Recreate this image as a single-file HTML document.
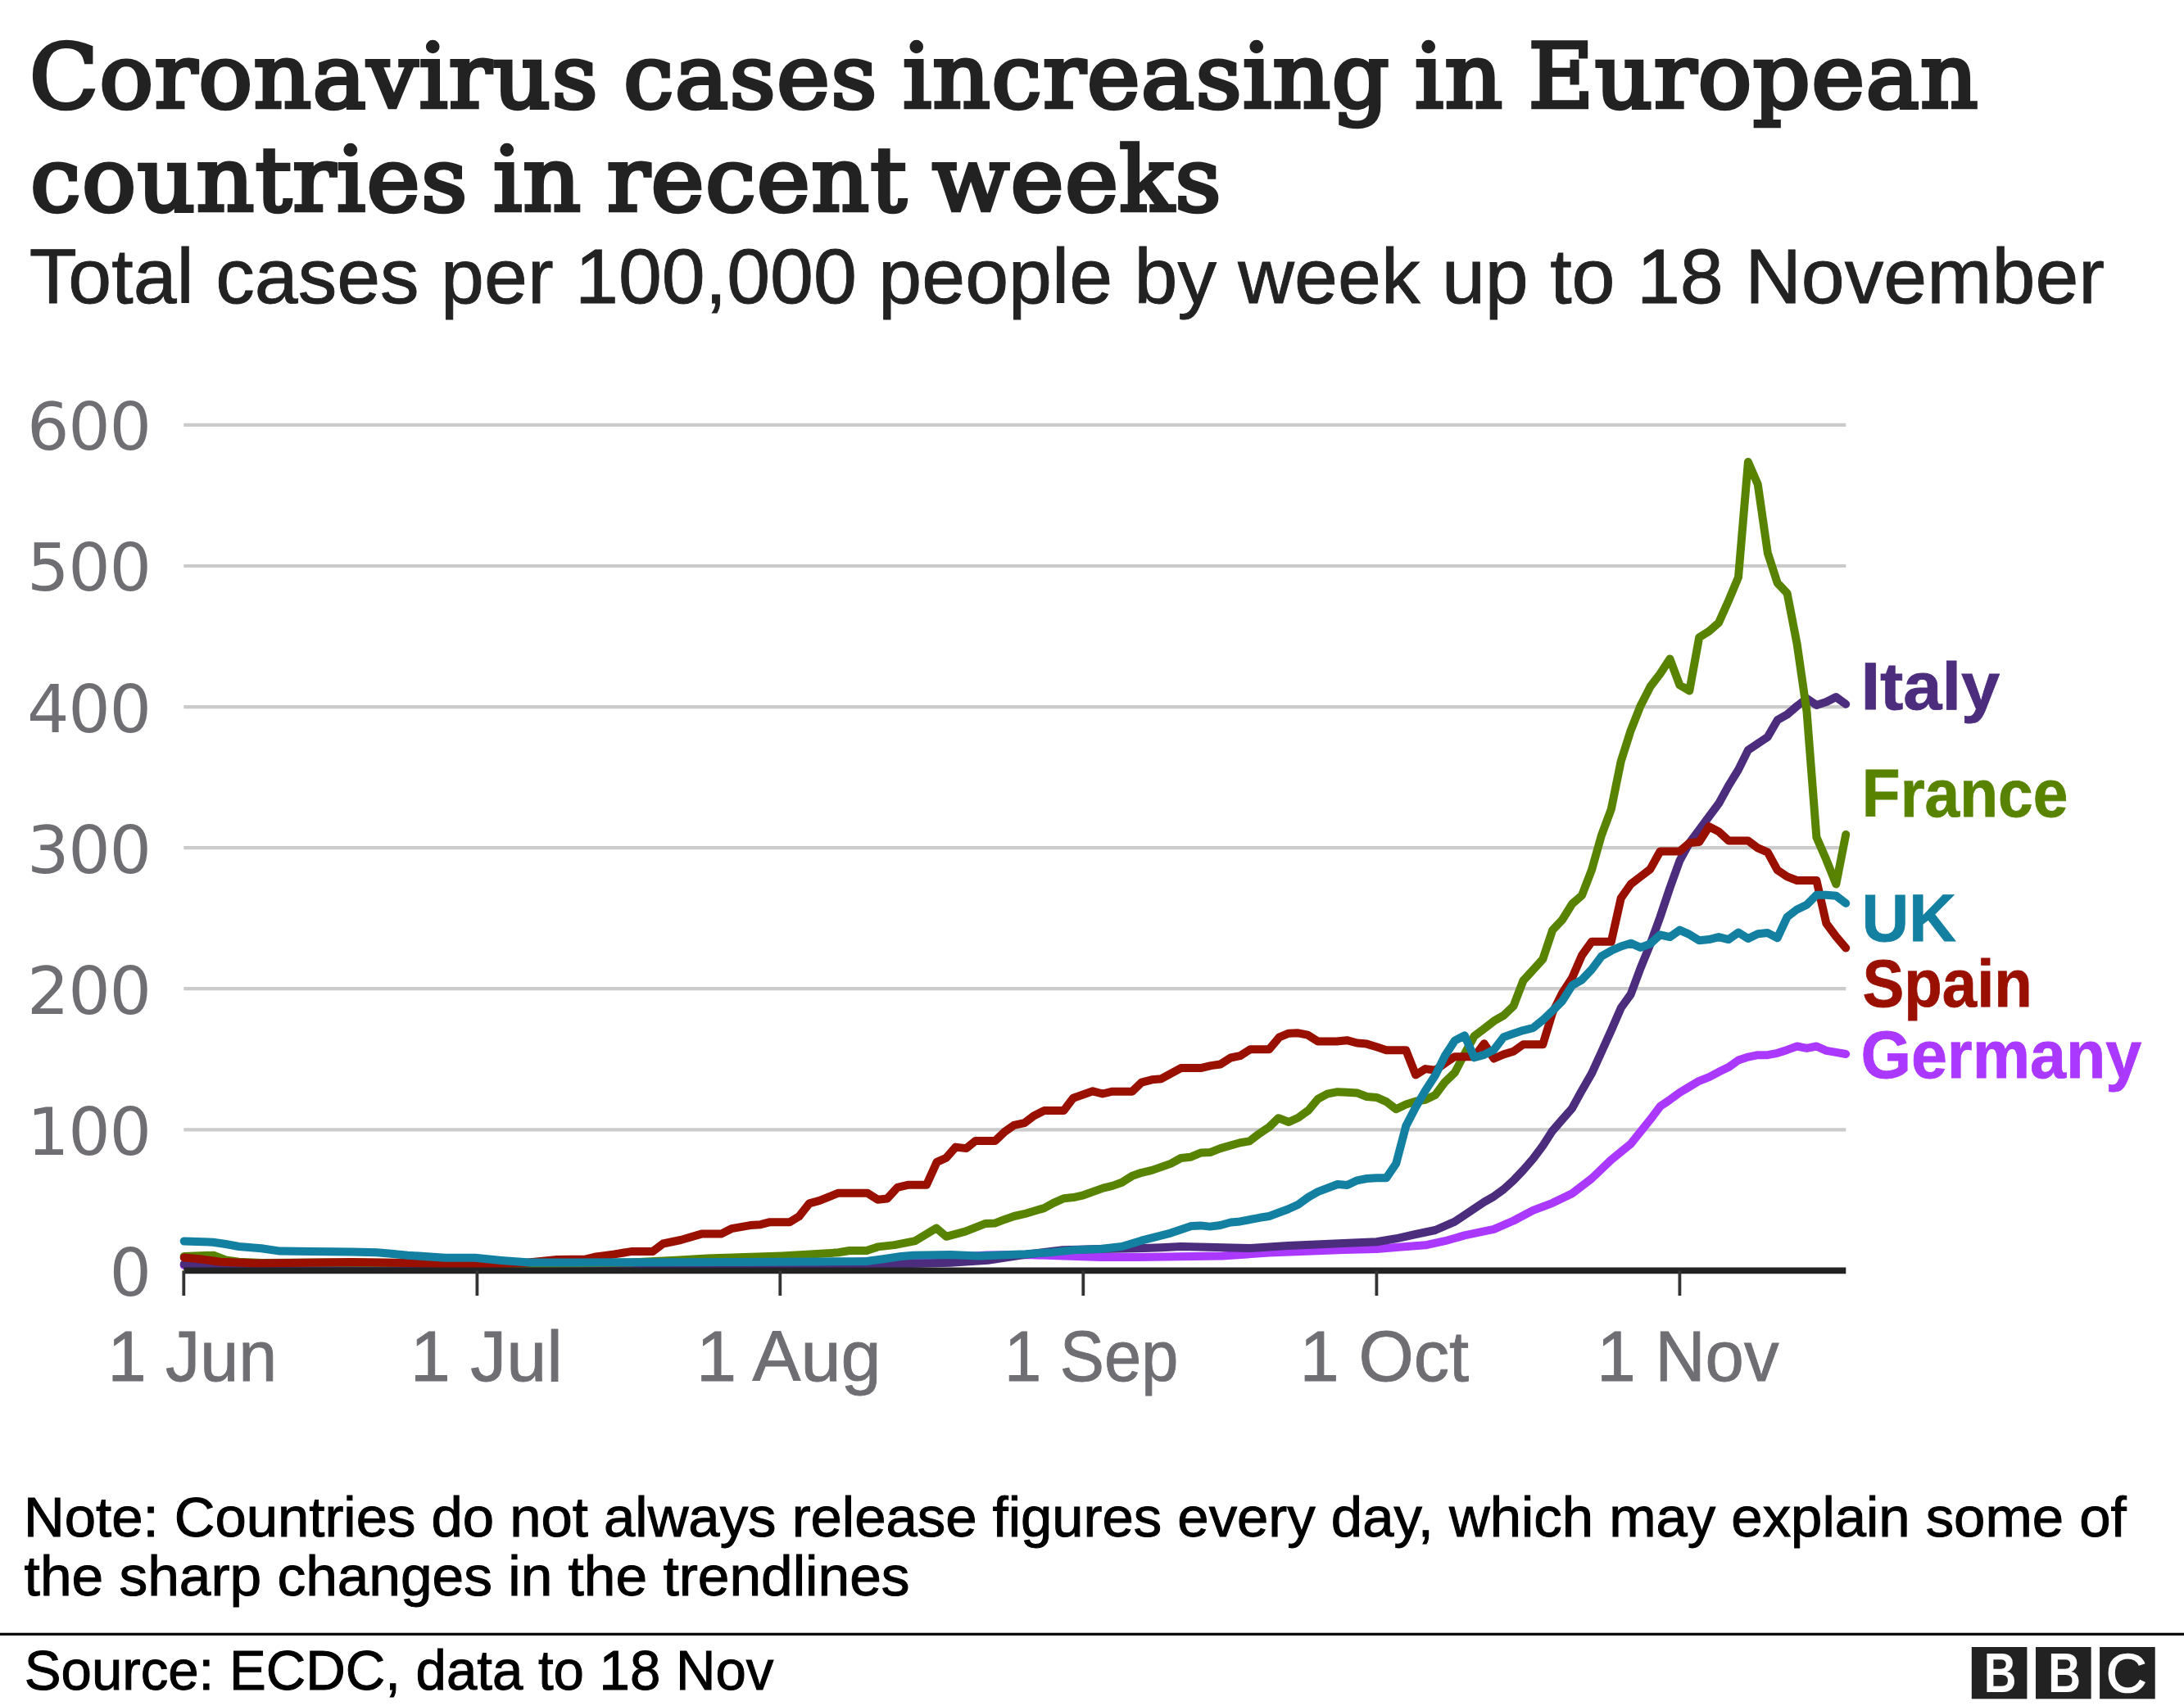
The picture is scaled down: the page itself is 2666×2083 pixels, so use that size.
<!DOCTYPE html>
<html lang="en"><head><meta charset="utf-8"><title>Coronavirus cases increasing in European countries in recent weeks</title>
<style>
html,body{margin:0;padding:0;background:#fff;}
body{width:2666px;height:2083px;overflow:hidden;}
svg{display:block;}
.t{font-family:"DejaVu Serif","Liberation Serif",serif;fill:#222;stroke:#222;stroke-width:4.5;stroke-linejoin:miter;}
.s{font-family:"Liberation Sans","DejaVu Sans",sans-serif;fill:#222;stroke:#222;stroke-width:0.9;}
.ay{font-family:"DejaVu Sans","Liberation Sans",sans-serif;fill:#6E6E73;}
.ax{font-family:"Liberation Sans","DejaVu Sans",sans-serif;fill:#6E6E73;stroke:#6E6E73;stroke-width:0.9;}
.lb{font-family:"Liberation Sans","DejaVu Sans",sans-serif;font-weight:bold;stroke-width:0.8;}
.ft{font-family:"Liberation Sans","DejaVu Sans",sans-serif;fill:#000;stroke:#000;stroke-width:1;}
.ln{fill:none;stroke-width:10;stroke-linecap:round;stroke-linejoin:round;}
</style></head><body>
<svg width="2666" height="2083" viewBox="0 0 2666 2083">
<rect width="2666" height="2083" fill="#fff"/>

<text id="t1" class="t" x="36.0" y="131.2" font-size="108.7" textLength="2380.0" lengthAdjust="spacingAndGlyphs" letter-spacing="1.3" word-spacing="-6">Coronavirus cases increasing in European</text>
<text id="t2" class="t" x="37.0" y="256.6" font-size="108.7" textLength="1455.0" lengthAdjust="spacingAndGlyphs" letter-spacing="1.3" word-spacing="-6">countries in recent weeks</text>
<text id="sub" class="s" x="35.8" y="369.6" font-size="94.2" textLength="2533.2" lengthAdjust="spacingAndGlyphs">Total cases per 100,000 people by week up to 18 November</text>
<line x1="224.3" x2="2253.3" y1="1379.3" y2="1379.3" stroke="#CBCBCB" stroke-width="4.2"/>
<line x1="224.3" x2="2253.3" y1="1207.2" y2="1207.2" stroke="#CBCBCB" stroke-width="4.2"/>
<line x1="224.3" x2="2253.3" y1="1035.2" y2="1035.2" stroke="#CBCBCB" stroke-width="4.2"/>
<line x1="224.3" x2="2253.3" y1="863.1" y2="863.1" stroke="#CBCBCB" stroke-width="4.2"/>
<line x1="224.3" x2="2253.3" y1="691.0" y2="691.0" stroke="#CBCBCB" stroke-width="4.2"/>
<line x1="224.3" x2="2253.3" y1="518.9" y2="518.9" stroke="#CBCBCB" stroke-width="4.2"/>
<text class="ay" x="183.9" y="1581.8" font-size="81" text-anchor="end" letter-spacing="-1.2">0</text>
<text class="ay" x="183.9" y="1409.7" font-size="81" text-anchor="end" letter-spacing="-1.2">100</text>
<text class="ay" x="183.9" y="1237.6" font-size="81" text-anchor="end" letter-spacing="-1.2">200</text>
<text class="ay" x="183.9" y="1065.6" font-size="81" text-anchor="end" letter-spacing="-1.2">300</text>
<text class="ay" x="183.9" y="893.5" font-size="81" text-anchor="end" letter-spacing="-1.2">400</text>
<text class="ay" x="183.9" y="721.4" font-size="81" text-anchor="end" letter-spacing="-1.2">500</text>
<text class="ay" x="183.9" y="549.3" font-size="81" text-anchor="end" letter-spacing="-1.2">600</text>
<path class="ln" stroke="#AB38FF" d="M224.7,1545.0 L400.0,1546.5 L700.0,1546.5 L900.0,1545.5 L1000.0,1543.0 L1100.0,1538.0 L1160.0,1535.0 L1205.0,1532.6 L1251.6,1532.0 L1343.0,1534.9 L1389.0,1534.9 L1492.0,1533.5 L1549.2,1529.6 L1640.0,1526.0 L1680.4,1524.9 L1704.2,1523.0 L1740.0,1520.3 L1763.9,1515.2 L1787.8,1508.4 L1823.6,1500.8 L1847.5,1490.5 L1871.3,1477.9 L1895.2,1468.8 L1919.1,1457.3 L1942.9,1439.0 L1966.8,1416.1 L1990.7,1396.6 L2014.5,1366.9 L2026.5,1350.9 L2038.4,1342.8 L2050.4,1334.0 L2062.3,1326.9 L2074.2,1319.8 L2086.2,1315.2 L2098.1,1308.8 L2110.0,1303.1 L2122.0,1294.5 L2133.9,1290.6 L2145.8,1288.2 L2157.8,1288.2 L2169.7,1285.8 L2181.6,1281.9 L2193.6,1277.5 L2205.5,1279.9 L2217.4,1277.5 L2229.4,1282.9 L2241.3,1284.9 L2253.2,1287.0"/>
<path class="ln" stroke="#4B2C7D" d="M224.7,1543.5 L260.0,1545.5 L400.0,1545.5 L700.0,1544.0 L900.0,1543.5 L1000.0,1543.5 L1060.0,1543.5 L1115.0,1543.0 L1160.0,1541.7 L1205.8,1538.8 L1251.6,1531.9 L1297.4,1526.2 L1343.2,1525.0 L1389.0,1524.3 L1417.6,1523.2 L1441.6,1522.0 L1526.3,1523.9 L1572.1,1521.1 L1640.0,1518.0 L1680.4,1516.2 L1704.2,1512.3 L1728.1,1507.0 L1752.0,1502.0 L1775.8,1491.7 L1787.8,1483.6 L1811.7,1467.6 L1823.6,1460.8 L1835.5,1452.1 L1847.5,1441.3 L1859.4,1428.7 L1871.3,1415.0 L1883.3,1398.9 L1895.2,1380.6 L1907.1,1366.9 L1919.1,1353.2 L1931.0,1331.4 L1942.9,1310.8 L1954.9,1284.5 L1966.8,1258.1 L1978.7,1230.7 L1990.7,1214.0 L2002.6,1182.0 L2014.5,1152.8 L2026.5,1119.6 L2038.4,1084.1 L2050.4,1050.9 L2062.3,1029.2 L2074.2,1013.2 L2086.2,997.1 L2098.1,981.1 L2110.0,959.3 L2122.0,939.9 L2133.9,915.9 L2145.8,907.8 L2157.8,899.8 L2169.7,879.2 L2181.6,872.4 L2193.6,862.1 L2205.5,852.9 L2217.4,860.9 L2229.4,857.0 L2241.3,851.1 L2253.2,859.8"/>
<path class="ln" stroke="#588300" d="M224.7,1534.0 L260.7,1532.7 L275.5,1538.4 L291.6,1540.7 L320.0,1542.0 L400.0,1541.5 L500.0,1542.0 L600.0,1543.0 L700.0,1542.5 L770.0,1541.5 L830.0,1538.5 L863.0,1536.5 L954.7,1533.4 L989.0,1531.6 L1023.4,1529.3 L1037.0,1527.0 L1057.8,1527.0 L1071.5,1522.4 L1092.0,1520.1 L1117.3,1515.1 L1143.0,1499.5 L1155.0,1509.8 L1178.3,1503.7 L1202.4,1494.1 L1214.9,1493.4 L1226.4,1488.9 L1237.8,1485.0 L1250.4,1482.2 L1274.5,1475.1 L1285.9,1468.9 L1298.5,1463.2 L1310.0,1462.1 L1322.5,1459.3 L1346.6,1450.6 L1358.0,1447.9 L1369.5,1443.8 L1382.1,1435.7 L1393.5,1431.8 L1406.1,1428.9 L1429.0,1420.9 L1441.6,1414.0 L1453.0,1412.8 L1465.6,1407.6 L1477.1,1407.1 L1489.7,1402.1 L1513.7,1395.2 L1525.2,1393.4 L1537.7,1383.8 L1549.2,1376.2 L1560.6,1365.2 L1573.2,1370.0 L1584.7,1364.8 L1597.3,1355.6 L1608.7,1341.9 L1620.2,1335.7 L1632.8,1333.2 L1644.6,1333.7 L1656.5,1334.4 L1668.4,1339.0 L1680.4,1339.9 L1692.3,1345.1 L1704.2,1354.3 L1716.2,1348.6 L1728.1,1344.7 L1740.0,1342.8 L1752.0,1337.1 L1763.9,1321.1 L1775.8,1309.7 L1787.8,1286.8 L1799.7,1265.0 L1811.7,1255.9 L1823.6,1246.7 L1835.5,1239.8 L1847.5,1228.4 L1859.4,1197.4 L1871.3,1184.4 L1883.3,1171.1 L1895.2,1135.6 L1907.1,1123.0 L1919.1,1103.6 L1931.0,1093.3 L1942.9,1062.4 L1954.9,1020.0 L1966.8,988.0 L1978.7,929.6 L1990.7,891.8 L2002.6,861.7 L2014.5,838.4 L2026.5,822.8 L2038.4,804.5 L2050.4,836.5 L2062.3,843.4 L2074.2,778.2 L2086.2,770.8 L2098.1,760.3 L2110.0,733.5 L2122.0,704.9 L2133.9,564.1 L2145.8,591.6 L2157.8,675.1 L2169.7,711.8 L2181.6,724.4 L2193.6,786.2 L2205.5,868.6 L2217.4,1022.3 L2229.4,1049.8 L2241.3,1079.5 L2253.2,1018.9"/>
<path class="ln" stroke="#990F00" d="M224.7,1535.5 L245.8,1537.5 L268.7,1540.7 L314.5,1542.6 L429.0,1541.0 L497.6,1542.0 L580.0,1544.0 L640.0,1542.0 L680.0,1538.0 L714.3,1537.5 L725.8,1534.8 L748.7,1531.6 L771.6,1527.9 L796.8,1527.9 L809.4,1518.5 L831.0,1514.0 L856.3,1506.6 L880.3,1506.6 L892.9,1500.2 L915.8,1496.1 L928.4,1495.2 L939.9,1492.2 L963.9,1492.2 L975.3,1485.3 L987.9,1469.3 L1000.5,1465.9 L1023.4,1456.7 L1058.9,1456.7 L1071.5,1464.7 L1082.9,1463.6 L1095.5,1449.8 L1108.1,1446.8 L1131.0,1446.8 L1143.6,1418.9 L1155.0,1413.7 L1166.5,1400.6 L1179.5,1402.1 L1190.9,1392.9 L1214.9,1392.9 L1226.4,1381.9 L1237.8,1373.9 L1250.4,1371.2 L1261.9,1362.5 L1274.5,1356.1 L1298.5,1356.1 L1310.0,1340.7 L1334.0,1332.3 L1345.9,1335.5 L1358.0,1332.7 L1382.1,1332.7 L1393.5,1321.7 L1406.1,1318.3 L1417.6,1317.2 L1441.6,1304.1 L1465.6,1304.1 L1478.2,1301.1 L1489.7,1299.5 L1502.3,1291.5 L1513.7,1289.2 L1526.3,1281.2 L1549.2,1281.2 L1561.8,1266.3 L1573.2,1261.7 L1584.7,1261.3 L1596.1,1263.6 L1608.7,1271.4 L1631.6,1271.4 L1644.2,1270.2 L1656.5,1273.5 L1668.4,1274.6 L1680.4,1278.3 L1692.3,1282.2 L1704.2,1282.2 L1716.2,1282.2 L1728.1,1312.4 L1740.0,1305.1 L1752.0,1306.7 L1763.9,1298.2 L1775.8,1290.2 L1787.8,1290.2 L1799.7,1290.2 L1811.7,1274.2 L1823.6,1292.5 L1835.5,1287.4 L1847.5,1283.8 L1859.4,1275.3 L1871.3,1275.3 L1883.3,1275.3 L1895.2,1236.4 L1907.1,1212.4 L1919.1,1194.0 L1931.0,1166.5 L1942.9,1149.8 L1954.9,1149.8 L1966.8,1149.8 L1978.7,1096.7 L1990.7,1079.5 L2002.6,1070.4 L2014.5,1061.2 L2026.5,1039.5 L2038.4,1039.5 L2050.4,1039.5 L2062.3,1029.2 L2074.2,1028.0 L2086.2,1009.3 L2098.1,1015.4 L2110.0,1026.4 L2122.0,1026.4 L2133.9,1026.4 L2145.8,1035.4 L2157.8,1040.6 L2169.7,1062.4 L2181.6,1070.4 L2193.6,1075.0 L2205.5,1075.0 L2217.4,1075.0 L2229.4,1127.6 L2241.3,1143.6 L2253.2,1157.4"/>
<path class="ln" stroke="#1380A1" d="M224.7,1515.5 L260.0,1516.7 L275.5,1519.0 L291.6,1522.0 L319.0,1524.2 L342.0,1527.6 L378.6,1528.1 L429.0,1528.4 L460.0,1529.3 L474.7,1530.4 L497.6,1532.7 L543.4,1535.7 L580.0,1535.7 L612.0,1538.9 L646.4,1541.6 L700.0,1541.5 L800.0,1541.2 L900.0,1541.0 L1000.0,1540.5 L1058.0,1540.0 L1080.0,1537.0 L1100.0,1534.0 L1115.0,1532.7 L1160.0,1531.9 L1194.3,1533.5 L1251.6,1531.2 L1285.9,1528.9 L1311.1,1526.2 L1343.2,1525.0 L1369.5,1522.0 L1393.5,1514.7 L1429.0,1505.6 L1454.2,1496.9 L1465.6,1496.4 L1477.1,1497.6 L1489.7,1496.0 L1502.3,1492.5 L1513.7,1491.4 L1537.7,1486.8 L1549.2,1485.0 L1560.6,1480.8 L1572.1,1476.5 L1584.7,1470.8 L1597.3,1461.6 L1608.7,1455.2 L1632.8,1446.0 L1644.6,1447.0 L1656.5,1441.3 L1668.4,1439.0 L1680.4,1438.3 L1692.3,1438.3 L1704.2,1420.7 L1716.2,1374.9 L1728.1,1352.0 L1740.0,1331.4 L1752.0,1313.1 L1763.9,1289.0 L1775.8,1270.7 L1787.8,1264.3 L1799.7,1291.3 L1811.7,1287.9 L1823.6,1281.7 L1835.5,1266.2 L1847.5,1262.0 L1859.4,1258.1 L1871.3,1255.2 L1883.3,1245.5 L1895.2,1234.1 L1907.1,1222.2 L1919.1,1203.2 L1931.0,1196.3 L1942.9,1183.7 L1954.9,1167.7 L1966.8,1160.8 L1978.7,1155.5 L1990.7,1151.7 L2002.6,1156.9 L2014.5,1152.3 L2026.5,1141.4 L2038.4,1144.1 L2050.4,1135.6 L2062.3,1140.9 L2074.2,1148.2 L2086.2,1147.1 L2098.1,1144.1 L2110.0,1147.1 L2122.0,1138.6 L2133.9,1145.9 L2145.8,1140.2 L2157.8,1139.1 L2169.7,1145.2 L2181.6,1119.6 L2193.6,1110.4 L2205.5,1104.7 L2217.4,1092.8 L2229.4,1092.8 L2241.3,1093.7 L2253.2,1102.9"/>
<line x1="224.4" x2="2253.3" y1="1551.4" y2="1551.4" stroke="#222" stroke-width="7.6"/>
<line x1="224.3" x2="224.3" y1="1551.4" y2="1582" stroke="#333" stroke-width="3.8"/>
<text id="xJun" class="ax" x="131.5" y="1685.8" font-size="86.4" textLength="206.7" lengthAdjust="spacingAndGlyphs">1 Jun</text>
<line x1="582.4" x2="582.4" y1="1551.4" y2="1582" stroke="#333" stroke-width="3.8"/>
<text id="xJul" class="ax" x="500.8" y="1685.8" font-size="86.4" textLength="186.0" lengthAdjust="spacingAndGlyphs">1 Jul</text>
<line x1="952.3" x2="952.3" y1="1551.4" y2="1582" stroke="#333" stroke-width="3.8"/>
<text id="xAug" class="ax" x="849.9" y="1685.8" font-size="86.4" textLength="225.7" lengthAdjust="spacingAndGlyphs">1 Aug</text>
<line x1="1322.3" x2="1322.3" y1="1551.4" y2="1582" stroke="#333" stroke-width="3.8"/>
<text id="xSep" class="ax" x="1226.1" y="1685.8" font-size="86.4" textLength="212.3" lengthAdjust="spacingAndGlyphs">1 Sep</text>
<line x1="1680.4" x2="1680.4" y1="1551.4" y2="1582" stroke="#333" stroke-width="3.8"/>
<text id="xOct" class="ax" x="1586.4" y="1685.8" font-size="86.4" textLength="206.7" lengthAdjust="spacingAndGlyphs">1 Oct</text>
<line x1="2050.4" x2="2050.4" y1="1551.4" y2="1582" stroke="#333" stroke-width="3.8"/>
<text id="xNov" class="ax" x="1949.2" y="1685.8" font-size="86.4" textLength="222.3" lengthAdjust="spacingAndGlyphs">1 Nov</text>
<text id="litaly" class="lb" x="2271.4" y="866.0" font-size="82.4" textLength="169.8" lengthAdjust="spacingAndGlyphs" fill="#4B2C7D" stroke="#4B2C7D">Italy</text>
<text id="lfrance" class="lb" x="2272.8" y="996.7" font-size="82.4" textLength="251.5" lengthAdjust="spacingAndGlyphs" fill="#588300" stroke="#588300">France</text>
<text id="luk" class="lb" x="2272.6" y="1148.9" font-size="82.4" textLength="115.3" lengthAdjust="spacingAndGlyphs" fill="#1380A1" stroke="#1380A1">UK</text>
<text id="lspain" class="lb" x="2273.4" y="1228.9" font-size="82.4" textLength="207.5" lengthAdjust="spacingAndGlyphs" fill="#990F00" stroke="#990F00">Spain</text>
<text id="lgermany" class="lb" x="2271.4" y="1315.7" font-size="82.4" textLength="342.8" lengthAdjust="spacingAndGlyphs" fill="#AB38FF" stroke="#AB38FF">Germany</text>
<text id="n1" class="ft" x="29.0" y="1875.5" font-size="68.0" textLength="2566.6" lengthAdjust="spacingAndGlyphs">Note: Countries do not always release figures every day, which may explain some of</text>
<text id="n2" class="ft" x="29.6" y="1947.5" font-size="68.0" textLength="1080.9" lengthAdjust="spacingAndGlyphs">the sharp changes in the trendlines</text>
<rect x="0" y="1993.7" width="2666" height="3.2" fill="#000"/>
<text id="src" class="ft" x="29.8" y="2062.6" font-size="68.0" textLength="914.6" lengthAdjust="spacingAndGlyphs">Source: ECDC, data to 18 Nov</text>
<rect x="2406.8" y="2011" width="67.6" height="63.3" fill="#222"/>
<text transform="translate(2441.6,2066.4) scale(0.80,1)" x="0" y="0" font-size="68.7" text-anchor="middle" fill="#fff" font-family="Liberation Sans,sans-serif" font-weight="bold">B</text>
<rect x="2485" y="2011" width="67.6" height="63.3" fill="#222"/>
<text transform="translate(2520.0,2066.4) scale(0.80,1)" x="0" y="0" font-size="68.7" text-anchor="middle" fill="#fff" font-family="Liberation Sans,sans-serif" font-weight="bold">B</text>
<rect x="2563.1" y="2011" width="67.6" height="63.3" fill="#222"/>
<text transform="translate(2595.6,2066.2) scale(1.02,1)" x="0" y="0" font-size="67" text-anchor="middle" fill="#fff" stroke="#fff" stroke-width="1.7" font-family="Liberation Sans,sans-serif">C</text>
</svg></body></html>
